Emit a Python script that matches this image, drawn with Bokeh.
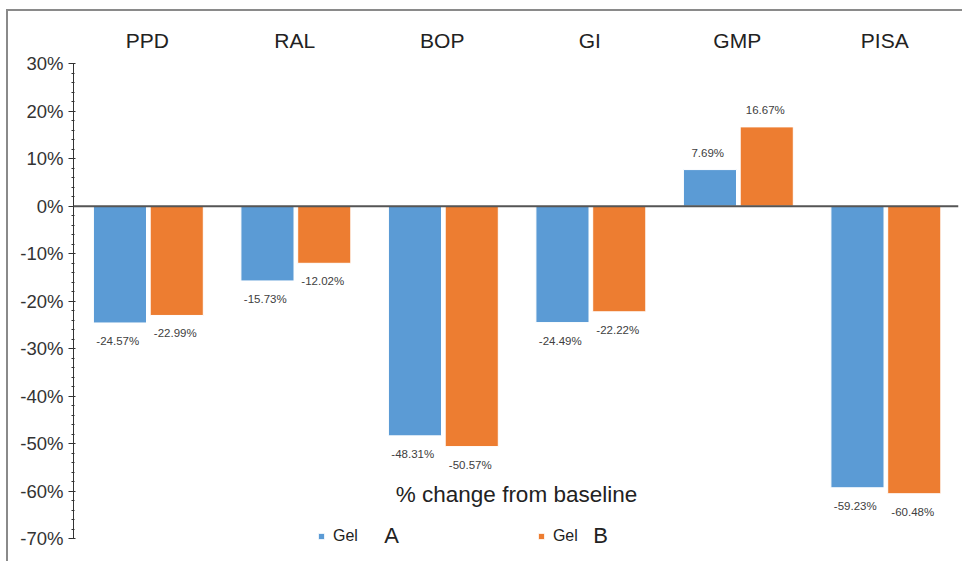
from bokeh.plotting import figure
from bokeh.models import (ColumnDataSource, FactorRange, Range1d, SingleIntervalTicker,
                          PrintfTickFormatter, Label, Legend, LegendItem, Span)
from bokeh.transform import dodge
from bokeh.core.properties import value
from bokeh.embed import file_html
from bokeh.resources import INLINE

categories = ["PPD", "RAL", "BOP", "GI", "GMP", "PISA"]
gel_a = [-24.57, -15.73, -48.31, -24.49, 7.69, -59.23]
gel_b = [-22.99, -12.02, -50.57, -22.22, 16.67, -60.48]
series_names = ["Gel", "Gel"]
series_letters = ["A", "B"]
axis_title = "% change from baseline"

BLUE = "#5B9BD5"
ORANGE = "#ED7D31"
FONT = "Liberation Sans"

def lbl(v):
    return f"{v:.2f}%"

src = ColumnDataSource(dict(
    cat=categories,
    a=gel_a, b=gel_b,
    a_txt=[lbl(v) for v in gel_a], b_txt=[lbl(v) for v in gel_b],
    a_off=[-17 if v >= 0 else 18 for v in gel_a],
    b_off=[-17 if v >= 0 else 18 for v in gel_b],
))

p = figure(width=956, height=552, output_backend="svg", toolbar_location=None,
           x_range=FactorRange(factors=categories, range_padding=0),
           y_range=Range1d(-72, 30), x_axis_location="above",
           min_border_left=65, min_border_top=52, min_border_bottom=15, min_border_right=6)
p.margin = (9, 0, 0, 6)
p.styles = {"border-top": "2px solid #8a8a8a", "border-left": "2px solid #8a8a8a"}
p.outline_line_color = None
p.xgrid.grid_line_color = None
p.ygrid.grid_line_color = None
p.background_fill_color = "white"
p.border_fill_color = "white"

ra = p.vbar(x=dodge("cat", -0.185, range=p.x_range), top="a", bottom=0, width=0.36, source=src,
            fill_color=BLUE, line_color="white", line_width=1)
rb = p.vbar(x=dodge("cat", 0.2, range=p.x_range), top="b", bottom=0, width=0.36, source=src,
            fill_color=ORANGE, line_color="white", line_width=1)

p.add_layout(Span(location=0, dimension="width", line_color="#555555", line_width=2))

p.text(x=dodge("cat", -0.2, range=p.x_range), y="a", text="a_txt", y_offset="a_off", source=src,
       text_font=value(FONT), text_font_size="11.5px", text_color="#404040",
       text_align="center", text_baseline="middle")
p.text(x=dodge("cat", 0.19, range=p.x_range), y="b", text="b_txt", y_offset="b_off", source=src,
       text_font=value(FONT), text_font_size="11.5px", text_color="#404040",
       text_align="center", text_baseline="middle")

xa = p.xaxis[0]
xa.axis_line_color = None
xa.major_tick_line_color = None
xa.minor_tick_line_color = None
xa.major_label_text_font = FONT
xa.major_label_text_font_size = "21px"
xa.major_label_text_color = "#222222"
xa.major_label_standoff = 6

ya = p.yaxis[0]
ya.ticker = SingleIntervalTicker(interval=10, num_minor_ticks=5)
ya.formatter = PrintfTickFormatter(format="%d%%")
ya.bounds = (-70, 30)
ya.axis_line_color = "#333333"
ya.axis_line_width = 1
ya.major_tick_line_color = "#333333"
ya.minor_tick_line_color = "#333333"
ya.major_tick_out = 5
ya.major_tick_in = 2
ya.minor_tick_out = 2
ya.minor_tick_in = 1
ya.major_label_text_font = FONT
ya.major_label_text_font_size = "18.5px"
ya.major_label_text_color = "#333333"
ya.major_label_standoff = 5

p.add_layout(Label(x=443, y=54, x_units="screen", y_units="screen", text=axis_title,
                   text_font=FONT, text_font_size="22.5px", text_color="#222222",
                   text_align="center", text_baseline="middle"))

legend = Legend(items=[LegendItem(label=series_names[0], renderers=[ra]),
                       LegendItem(label=series_names[1], renderers=[rb])],
                orientation="horizontal", location=(244, 3), glyph_width=8, glyph_height=8,
                label_text_font=FONT, label_text_font_size="16px", label_text_color="#222222",
                label_standoff=8, spacing=179, padding=0, margin=0,
                border_line_color=None, background_fill_alpha=0)
p.add_layout(legend)

p.add_layout(Label(x=318, y=13, x_units="screen", y_units="screen", text=series_letters[0],
                   text_font=FONT, text_font_size="22px", text_color="#222222",
                   text_align="center", text_baseline="middle"))
p.add_layout(Label(x=527, y=13, x_units="screen", y_units="screen", text=series_letters[1],
                   text_font=FONT, text_font_size="22px", text_color="#222222",
                   text_align="center", text_baseline="middle"))

open("out.html", "w").write(file_html(p, INLINE))
